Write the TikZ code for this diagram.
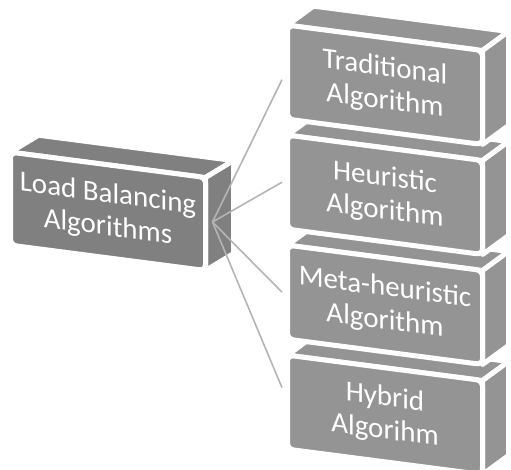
\documentclass[tikz,border=0pt]{standalone}
\usepackage{fontspec}
\setmainfont{Carlito}

\definecolor{grisA}{RGB}{128,128,128}
\definecolor{grisB}{RGB}{148,148,148}
\definecolor{colEnlace}{RGB}{180,180,180}

\tikzset{
  cara/.style={draw=white,line width=5pt,line join=round},
  frente/.style={cara,rounded corners=6pt,minimum width=195pt,minimum height=93pt,
    inner sep=0pt,outer sep=0pt,transform shape,text=white,align=center,
    font=\fontsize{29}{33}\selectfont},
  enlace/.style={draw=colEnlace,line width=1.6pt}
}

\begin{document}
\begin{tikzpicture}[x=1pt,y=1pt]
    \useasboundingbox (0,0) rectangle (511,470);
    \clip (0,0) rectangle (511,470);

    % Caja de la izquierda
    \begin{scope}[shift={(13,315)},yslant=-0.13]
      \def\dx{28}
      \def\dy{20.6}
      \path[cara,fill=grisA] (-2.5,2.5) -- (192.5,2.5) -- ++(\dx,\dy) -- (-2.5+\dx,2.5+\dy) -- cycle;
      \path[cara,fill=grisA] (192.5,2.5) -- (192.5,-90.5) -- ++(\dx,\dy) -- (192.5+\dx,2.5+\dy) -- cycle;
      \node[frente,fill=grisA] (lb) at (95,-44) {Load Balancing\\Algorithms};
    \end{scope}

    % Cajas de la derecha (de abajo hacia arriba)
    \foreach \ytop/\txt/\nm in {112/Hybrid\\Algorihm/t4,
                                222/Meta-heuristic\\Algorithm/t3,
                                332/Heuristic\\Algorithm/t2,
                                442/Traditional\\Algorithm/t1}{
      \begin{scope}[shift={(290,\ytop)},yslant=-0.13]
        \def\dx{26}
        \def\dy{22.4}
        \path[cara,fill=grisB] (-2.5,2.5) -- (192.5,2.5) -- ++(\dx,\dy) -- (-2.5+\dx,2.5+\dy) -- cycle;
        \path[cara,fill=grisB] (192.5,2.5) -- (192.5,-91.5) -- ++(\dx,\dy) -- (192.5+\dx,2.5+\dy) -- cycle;
        \node[frente,fill=grisB,minimum height=94pt] (\nm) at (95,-44.5) {\txt};
      \end{scope}
    }

    % Enlaces
    \coordinate (hub) at ([xshift=7pt,yshift=2pt]lb.east);
    \draw[enlace] (hub) -- ([xshift=-5.5pt,yshift=-7.5pt]t1.west);
    \draw[enlace] (hub) -- ([xshift=-5.5pt]t2.west);
    \draw[enlace] (hub) -- ([xshift=-5.5pt]t3.west);
    \draw[enlace] (hub) -- ([xshift=-5.5pt,yshift=14.5pt]t4.west);
\end{tikzpicture}
\end{document}
